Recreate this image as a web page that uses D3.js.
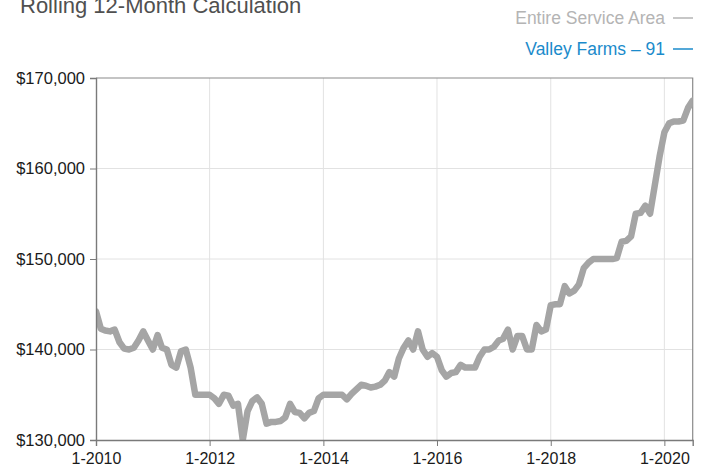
<!DOCTYPE html>
<html>
<head>
<meta charset="utf-8">
<script src="https://cdn.jsdelivr.net/npm/d3@7"></script>
<style>
  body { margin: 0; background: #fff; }
  svg { display: block; font-family: "Liberation Sans", Arial, sans-serif; }
</style>
</head>
<body>
<div id="chart"></div>
<script>
// monthly rolling 12-month values, starting Jan 2010
var startMonth = "2010-01";
var prices = [
  144200, 142300, 142100, 142000, 142200, 140800, 140100, 140000, 140200, 141000, 142000, 141000,
  140000, 141600, 140200, 140000, 138300, 138000, 139800, 140000, 138000, 135000, 135000, 135000,
  135000, 134600, 134000, 135000, 134900, 133800, 134000, 130000, 133200, 134300, 134700, 134000,
  131800, 132000, 132000, 132100, 132500, 134000, 133100, 133000, 132400, 133000, 133200, 134600,
  135000, 135000, 135000, 135000, 135000, 134500, 135100, 135600, 136100, 136000, 135800, 135900,
  136100, 136600, 137500, 137000, 139000, 140200, 141000, 140000, 142000, 140000, 139200, 139600,
  139200, 137700, 137000, 137400, 137500, 138300, 138000, 138000, 138000, 139200, 140000, 140000,
  140300, 141000, 141200, 142200, 140000, 141500, 141500, 140000, 140000, 142700, 142000, 142200,
  144900, 145000, 145000, 147000, 146200, 146500, 147200, 149000, 149600, 150000, 150000, 150000,
  150000, 150000, 150100, 151900, 152000, 152500, 155000, 155100, 155900, 155000, 158200, 161300,
  164000, 165000, 165200, 165200, 165300, 166700, 167500
];
var yTicks = [130000, 140000, 150000, 160000, 170000];
var xTickYears = ["2010", "2012", "2014", "2016", "2018", "2020"];
var xEnd = "2020-07";
var titleText = "Rolling 12-Month Calculation";
var legendItems = ["Entire Service Area", "Valley Farms \u2013 91"];
var legendColors = ["#b4b4b4", "#1b8bcb"];

var width = 704, height = 466;
var plotLeft = 96, plotRight = 692.7, plotTop = 78, plotBottom = 440;

var parseMonth = d3.timeParse("%Y-%m");
var start = parseMonth(startMonth);
var data = prices.map(function (v, i) {
    return { date: d3.timeMonth.offset(start, i), value: v };
});

var svg = d3.select("#chart").append("svg")
    .attr("width", width)
    .attr("height", height);

var x = d3.scaleTime()
    .domain([start, parseMonth(xEnd)])
    .range([plotLeft, plotRight]);
var y = d3.scaleLinear()
    .domain([130000, 170000])
    .range([plotBottom, plotTop]);

var xTicks = xTickYears.map(function (yr) { return parseMonth(yr + "-01"); });

// grid
svg.append("g").selectAll("line").data(xTicks.slice(1)).enter().append("line")
    .attr("x1", function (d) { return x(d); })
    .attr("x2", function (d) { return x(d); })
    .attr("y1", plotTop).attr("y2", plotBottom)
    .attr("stroke", "#e2e2e2").attr("stroke-width", 1);
svg.append("g").selectAll("line").data(yTicks.slice(1, -1)).enter().append("line")
    .attr("x1", plotLeft).attr("x2", plotRight)
    .attr("y1", function (d) { return y(d); })
    .attr("y2", function (d) { return y(d); })
    .attr("stroke", "#e2e2e2").attr("stroke-width", 1);

// frame top and right
svg.append("path")
    .attr("d", "M" + plotLeft + "," + plotTop + "H" + plotRight + "V" + plotBottom)
    .attr("fill", "none").attr("stroke", "#8a8a8a").attr("stroke-width", 1.2);

// line
svg.append("clipPath").attr("id", "plot")
    .append("rect").attr("x", plotLeft).attr("y", plotTop)
    .attr("width", plotRight - plotLeft).attr("height", plotBottom - plotTop);

var line = d3.line()
    .x(function (d) { return x(d.date); })
    .y(function (d) { return y(d.value); });

svg.append("path")
    .datum(data)
    .attr("clip-path", "url(#plot)")
    .attr("d", line)
    .attr("fill", "none")
    .attr("stroke", "#a5a5a5")
    .attr("stroke-width", 6.5)
    .attr("stroke-linejoin", "round")
    .attr("stroke-linecap", "round");

// axes
var yAxis = d3.axisLeft(y)
    .tickValues(yTicks)
    .tickSize(6)
    .tickPadding(5)
    .tickFormat(function (d) { return "$" + d3.format(",")(d); });
var gy = svg.append("g").attr("transform", "translate(" + plotLeft + ",0)").call(yAxis);

var xAxis = d3.axisBottom(x)
    .tickValues(xTicks)
    .tickSize(6)
    .tickPadding(7)
    .tickFormat(d3.timeFormat("1-%Y"));
var gx = svg.append("g").attr("transform", "translate(0," + plotBottom + ")").call(xAxis);

[gx, gy].forEach(function (g) {
    g.select(".domain").attr("stroke", "#7a7a7a").attr("stroke-width", 1.4);
    g.selectAll(".tick line").attr("stroke", "#7a7a7a");
});
gy.selectAll(".tick text").attr("font-size", 16.5).attr("fill", "#1a1a1a")
    .attr("font-family", "Liberation Sans, Arial, sans-serif");
gx.selectAll(".tick text").attr("font-size", 16).attr("fill", "#1a1a1a")
    .attr("font-family", "Liberation Sans, Arial, sans-serif");

// title
svg.append("text")
    .attr("x", 20).attr("y", 13)
    .attr("font-size", 22)
    .attr("fill", "#505050")
    .text(titleText);

// legend
var lg = svg.append("g").selectAll("g").data(legendItems).enter().append("g")
    .attr("transform", function (d, i) { return "translate(0," + (24 + i * 31) + ")"; });
lg.append("text")
    .attr("x", 665).attr("text-anchor", "end")
    .attr("font-size", 17.5)
    .attr("fill", function (d, i) { return legendColors[i]; })
    .text(function (d) { return d; });
lg.append("line")
    .attr("x1", 673).attr("x2", 693)
    .attr("y1", -6).attr("y2", -6)
    .attr("stroke", function (d, i) { return legendColors[i]; })
    .attr("stroke-width", 1.5);
</script>
</body>
</html>
